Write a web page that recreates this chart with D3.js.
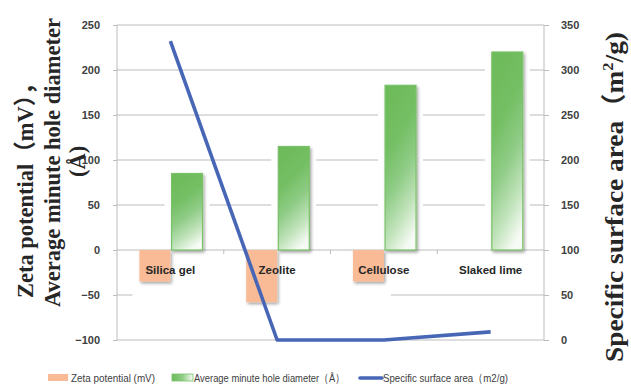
<!DOCTYPE html>
<html><head><meta charset="utf-8">
<script src="https://cdn.jsdelivr.net/npm/d3@7"></script>
<style>body{margin:0;background:#fff}</style>
</head><body>
<svg id="chart" width="631" height="385"></svg>
<script>
// Data
const categories = ["Silica gel", "Zeolite", "Cellulose", "Slaked lime"];
const zetaPotential = [-35, -58, -35, 0];          // mV
const poreDiameter = [85, 115, 183, 220];           // Å
const surfaceArea = [332, 0, 0, 9];                 // m2/g
const leftTicks = [-100, -50, 0, 50, 100, 150, 200, 250];
const rightTicks = [0, 50, 100, 150, 200, 250, 300, 350];

const W = 631, H = 385;
const plot = {left: 117, right: 544, top: 25, bottom: 340};
const svg = d3.select("#chart");

const x = d3.scaleBand().domain(categories).range([plot.left, plot.right]);
const yL = d3.scaleLinear().domain([-100, 250]).range([plot.bottom, plot.top]);
const yR = d3.scaleLinear().domain([0, 350]).range([plot.bottom, plot.top]);

const barW = x.bandwidth() * 0.29;
const cx = c => x(c) + x.bandwidth() / 2;
const orangeX = c => cx(c) - barW;
const greenX = c => cx(c) + 1.2;

const defs = svg.append("defs");
const grad = defs.append("linearGradient").attr("id", "greenFill")
  .attr("x1", 0.35).attr("y1", 0).attr("x2", 0.65).attr("y2", 1);
[[0, "#6dbb5a"], [0.3, "#74bf64"], [0.55, "#8fcc86"], [0.8, "#c3e4bd"], [1, "#f7fbf6"]]
  .forEach(([o, c]) => grad.append("stop").attr("offset", o).attr("stop-color", c));
const lgrad = defs.append("linearGradient").attr("id", "greenLegend")
  .attr("x1", 0).attr("y1", 0).attr("x2", 1).attr("y2", 0);
[[0, "#6dbb5a"], [0.5, "#8fcc86"], [1, "#f7fbf6"]]
  .forEach(([o, c]) => lgrad.append("stop").attr("offset", o).attr("stop-color", c));
const shadow = defs.append("filter").attr("id", "shadow")
  .attr("x", "-30%").attr("y", "-30%").attr("width", "160%").attr("height", "160%");
shadow.append("feDropShadow").attr("dx", 1.5).attr("dy", 2).attr("stdDeviation", 1.5)
  .attr("flood-color", "#000").attr("flood-opacity", 0.35);

const gridColor = "#bcbcbc";

// Horizontal gridlines
svg.append("g").selectAll("line").data(leftTicks.filter(d => d !== 0)).join("line")
  .attr("x1", plot.left).attr("x2", plot.right)
  .attr("y1", d => yL(d)).attr("y2", d => yL(d))
  .attr("stroke", gridColor).attr("stroke-width", 1);

// White halos around the bars
const halo = 7;
const haloG = svg.append("g").attr("fill", "#fff");
categories.forEach((c, i) => {
  if (zetaPotential[i] !== 0) {
    haloG.append("rect").attr("x", orangeX(c) - halo).attr("width", barW + 2 * halo)
      .attr("y", yL(0)).attr("height", yL(zetaPotential[i]) - yL(0) + halo);
  }
  haloG.append("rect").attr("x", greenX(c) - halo).attr("width", barW + 2 * halo)
    .attr("y", yL(poreDiameter[i]) - halo).attr("height", yL(0) - yL(poreDiameter[i]) + halo);
});
// blank band under the first three labels
haloG.append("rect")
  .attr("x", orangeX(categories[0]) - halo)
  .attr("width", orangeX(categories[2]) + barW + halo - (orangeX(categories[0]) - halo))
  .attr("y", yL(-50) - 3).attr("height", 6);

// Axis lines
svg.append("line").attr("x1", plot.left).attr("x2", plot.left)
  .attr("y1", plot.top).attr("y2", plot.bottom).attr("stroke", gridColor);
svg.append("line").attr("x1", plot.right).attr("x2", plot.right)
  .attr("y1", plot.top).attr("y2", plot.bottom).attr("stroke", gridColor);
svg.append("line").attr("x1", plot.left).attr("x2", plot.right)
  .attr("y1", yL(0)).attr("y2", yL(0)).attr("stroke", gridColor);

// Left axis
const axL = svg.append("g").attr("transform", `translate(${plot.left},0)`)
  .call(d3.axisLeft(yL).tickValues(leftTicks).tickSize(4).tickPadding(13));
// Right axis
const axR = svg.append("g").attr("transform", `translate(${plot.right},0)`)
  .call(d3.axisRight(yR).tickValues(rightTicks).tickSize(5).tickPadding(12));
[axL, axR].forEach(a => {
  a.select(".domain").remove();
  a.selectAll(".tick line").attr("stroke", gridColor);
  a.selectAll(".tick text").attr("fill", "#404040")
    .style("font-family", "'Liberation Sans', Arial, sans-serif")
    .style("font-size", "11px").style("font-weight", "bold");
});
// Category boundary ticks on the zero line
svg.append("g").selectAll("line").data(categories.slice(1)).join("line")
  .attr("x1", d => x(d)).attr("x2", d => x(d))
  .attr("y1", yL(0)).attr("y2", yL(0) + 4).attr("stroke", gridColor);

// Zeta potential bars
svg.append("g").selectAll("rect").data(categories.filter((c, i) => zetaPotential[i] !== 0)).join("rect")
  .attr("x", c => orangeX(c)).attr("width", barW)
  .attr("y", yL(0)).attr("height", c => yL(zetaPotential[categories.indexOf(c)]) - yL(0))
  .attr("fill", "#f8bb96").attr("filter", "url(#shadow)");

// Pore diameter bars
svg.append("g").selectAll("rect").data(categories).join("rect")
  .attr("x", c => greenX(c)).attr("width", barW)
  .attr("y", (c, i) => yL(poreDiameter[i]))
  .attr("height", (c, i) => yL(0) - yL(poreDiameter[i]))
  .attr("fill", "url(#greenFill)").attr("stroke", "#79c268").attr("stroke-width", 1.2)
  .attr("filter", "url(#shadow)");

// Surface area line
const line = d3.line().x((d, i) => cx(categories[i])).y(d => yR(d));
svg.append("path").datum(surfaceArea).attr("d", line)
  .attr("fill", "none").attr("stroke", "#4766b6").attr("stroke-width", 3.6)
  .attr("stroke-linejoin", "round");

// Category labels
svg.append("g").selectAll("text").data(categories).join("text")
  .attr("x", c => cx(c)).attr("y", yL(0) + 24)
  .attr("text-anchor", "middle").attr("fill", "#262626")
  .style("font-family", "'Liberation Sans', Arial, sans-serif")
  .style("font-size", "11.5px").style("font-weight", "bold")
  .text(c => c);

// Axis titles
const serif = "'Liberation Serif', 'Times New Roman', 'Noto Sans CJK JP', serif";
const leftTitle = [
  {text: "Zeta potential（mV），", bx: 33, start: 298},
  {text: "Average minute hole diameter", bx: 60, start: 307},
  {text: "(Å)", bx: 85, start: 177}
];
svg.append("g").selectAll("text").data(leftTitle).join("text")
  .attr("transform", d => `translate(${d.bx},${d.start}) rotate(-90)`)
  .attr("fill", "#262626").style("font-family", serif)
  .style("font-size", "22.5px").style("font-weight", "bold")
  .text(d => d.text);

const rt = svg.append("text").attr("transform", "translate(623,362) rotate(-90)")
  .attr("fill", "#262626").style("font-family", serif)
  .style("font-size", "25px").style("font-weight", "bold")
  .attr("textLength", 330).attr("lengthAdjust", "spacingAndGlyphs");
rt.append("tspan").text("Specific surface area（m");
rt.append("tspan").attr("dy", -10).style("font-size", "15px").text("2");
rt.append("tspan").attr("dy", 10).text("/g)");

// Legend
const legY = 378;
const legFont = "'Liberation Sans', Arial, sans-serif";
const legend = svg.append("g").style("font-family", legFont).style("font-size", "11.5px").attr("fill", "#404040");
legend.append("rect").attr("x", 48).attr("y", legY - 4).attr("width", 20).attr("height", 7).attr("fill", "#f8bb96");
legend.append("text").attr("x", 71).attr("y", legY + 4).attr("textLength", 84)
  .attr("lengthAdjust", "spacingAndGlyphs").text("Zeta potential (mV)");
legend.append("rect").attr("x", 172).attr("y", legY - 4).attr("width", 21).attr("height", 7)
  .attr("fill", "url(#greenLegend)").attr("stroke", "#79c268").attr("stroke-width", 0.8);
legend.append("text").attr("x", 194).attr("y", legY + 4).attr("textLength", 151)
  .attr("lengthAdjust", "spacingAndGlyphs").text("Average minute hole diameter（Å）");
legend.append("line").attr("x1", 360).attr("x2", 382).attr("y1", legY).attr("y2", legY)
  .attr("stroke", "#4766b6").attr("stroke-width", 3.6).attr("stroke-linecap", "round");
legend.append("text").attr("x", 383).attr("y", legY + 4).attr("textLength", 125)
  .attr("lengthAdjust", "spacingAndGlyphs").text("Specific surface area（m2/g)");
</script>
</body></html>
